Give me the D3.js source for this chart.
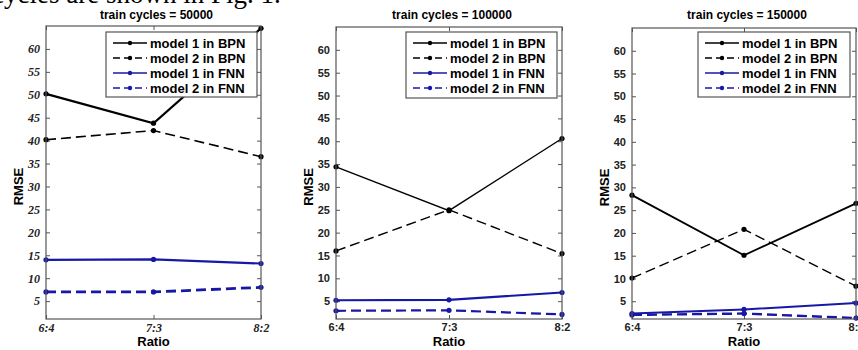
<!DOCTYPE html>
<html><head><meta charset="utf-8">
<script src="https://cdn.jsdelivr.net/npm/d3@7"></script>
<style>
body{margin:0;background:#fff;}
svg{display:block;}
</style></head>
<body>
<svg id="chart" width="858" height="350"></svg>
<script>
// ---- data ----
const ratios = ["6:4", "7:3", "8:2"];
const cycles = ["50000", "100000", "150000"];
const seriesNames = ["model 1 in BPN", "model 2 in BPN", "model 1 in FNN", "model 2 in FNN"];
const yTicks = [5, 10, 15, 20, 25, 30, 35, 40, 45, 50, 55, 60];
// values per panel (train cycles = 50000, 100000, 150000)
const bpn1 = [[50.2, 43.8, 64.5], [34.4, 24.8, 40.6], [28.3, 15.1, 26.5]];
const bpn2 = [[40.2, 42.2, 36.5], [16.0, 25.0, 15.4], [10.1, 20.8, 8.3]];
const fnn1 = [[14.0, 14.1, 13.2], [5.2, 5.3, 6.9], [2.3, 3.2, 4.6]];
const fnn2 = [[7.0, 7.0, 8.0], [2.9, 3.0, 2.1], [2.0, 2.3, 1.3]];

// ---- layout / style ----
const svg = d3.select("#chart");
const BLUE = "#1818a6";
const layouts = [
  {l: 46, r: 261, t: 26, b: 319, font: "bold italic 12px 'Liberation Serif', serif", lw: [2.2, 1.6, 2.2, 2.8], legend: {x: 106, y: 32, w: 151, h: 65}},
  {l: 336, r: 562, t: 27, b: 319, font: "bold 11px 'Liberation Sans', Arial, sans-serif", lw: [1.4, 1.4, 2.2, 2.2], legend: {x: 406, y: 32, w: 151, h: 66}},
  {l: 632, r: 856, t: 28, b: 319, font: "bold 11px 'Liberation Sans', Arial, sans-serif", lw: [1.8, 1.4, 2.0, 2.4], legend: {x: 698, y: 32, w: 152, h: 65}}
];
const styles = [
  {color: "#000", dash: null},
  {color: "#000", dash: "10,5"},
  {color: BLUE, dash: null},
  {color: BLUE, dash: "10,5"}
];

// stray caption text at the top (from surrounding document)
svg.append("text").attr("x", -8).attr("y", 3)
  .attr("font-family", "'Liberation Serif', serif").attr("font-size", 27)
  .attr("fill", "#000").text("cycles are shown in Fig. 1.");

layouts.forEach((L, p) => {
  const g = svg.append("g");
  const x = d3.scalePoint().domain(ratios).range([L.l, L.r]);
  const y = d3.scaleLinear().domain([1.1, 65]).range([L.b, L.t]);

  // white plot area
  g.append("rect").attr("x", L.l).attr("y", L.t).attr("width", L.r - L.l).attr("height", L.b - L.t)
    .attr("fill", "#fff");

  // left axis
  const yl = g.append("g").attr("transform", `translate(${L.l},0)`)
    .call(d3.axisLeft(y).tickValues(yTicks).tickSizeInner(-4).tickSizeOuter(0).tickPadding(6));
  yl.selectAll("text").style("font", L.font).attr("fill", "#222");
  // right axis ticks
  const yr = g.append("g").attr("transform", `translate(${L.r},0)`)
    .call(d3.axisRight(y).tickValues(yTicks).tickSizeInner(-4).tickSizeOuter(0).tickFormat(""));
  // bottom axis
  const xb = g.append("g").attr("transform", `translate(0,${L.b})`)
    .call(d3.axisBottom(x).tickSizeInner(-4).tickSizeOuter(0).tickPadding(4));
  xb.selectAll("text").style("font", L.font).attr("fill", "#222");
  // top axis ticks
  const xt = g.append("g").attr("transform", `translate(0,${L.t})`)
    .call(d3.axisTop(x).tickSizeInner(-4).tickSizeOuter(0).tickFormat(""));
  [yl, yr, xb, xt].forEach(a => {
    a.select(".domain").remove();
    a.selectAll("line").attr("stroke", "#555");
  });

  // series
  const clipId = "clip" + p;
  svg.append("clipPath").attr("id", clipId).append("rect")
    .attr("x", L.l - 4).attr("y", L.t - 4).attr("width", L.r - L.l + 8).attr("height", L.b - L.t + 8);
  const all = [bpn1[p], bpn2[p], fnn1[p], fnn2[p]];
  const line = d3.line().x((d, i) => x(ratios[i])).y(d => y(d));
  const sg = g.append("g").attr("clip-path", `url(#${clipId})`);
  all.forEach((vals, s) => {
    sg.append("path").datum(vals).attr("d", line).attr("fill", "none")
      .attr("stroke", styles[s].color).attr("stroke-width", L.lw[s])
      .attr("stroke-dasharray", styles[s].dash);
    sg.selectAll(null).data(vals).enter().append("circle")
      .attr("cx", (d, i) => x(ratios[i])).attr("cy", d => y(d)).attr("r", 2.6)
      .attr("fill", styles[s].color);
  });

  // frame
  g.append("rect").attr("x", L.l).attr("y", L.t).attr("width", L.r - L.l).attr("height", L.b - L.t)
    .attr("fill", "none").attr("stroke", "#555").attr("stroke-width", 1.2);

  // title
  g.append("text").attr("x", (L.l + L.r) / 2 + 3).attr("y", 19).attr("text-anchor", "middle")
    .style("font", "bold 12px 'Liberation Sans', Arial, sans-serif").text("train cycles = " + cycles[p]);
  // axis labels
  g.append("text").attr("x", (L.l + L.r) / 2).attr("y", 346).attr("text-anchor", "middle")
    .style("font", "bold 13px 'Liberation Sans', Arial, sans-serif").text("Ratio");
  g.append("text").attr("transform", `translate(${L.l - 23},${y(30)}) rotate(-90)`).attr("text-anchor", "middle")
    .style("font", "bold 13px 'Liberation Sans', Arial, sans-serif").text("RMSE");

  // legend
  const lg = g.append("g");
  lg.append("rect").attr("x", L.legend.x).attr("y", L.legend.y).attr("width", L.legend.w).attr("height", L.legend.h)
    .attr("fill", "#fff").attr("stroke", "#555").attr("stroke-width", 1.2);
  seriesNames.forEach((name, s) => {
    const yy = L.legend.y + 11 + s * 15;
    const x0 = L.legend.x + 7, x1 = L.legend.x + 41;
    lg.append("line").attr("x1", x0).attr("x2", x1).attr("y1", yy).attr("y2", yy)
      .attr("stroke", styles[s].color).attr("stroke-width", 1.4)
      .attr("stroke-dasharray", styles[s].dash ? "7,4" : null);
    lg.append("circle").attr("cx", (x0 + x1) / 2).attr("cy", yy).attr("r", 2.2).attr("fill", styles[s].color);
    lg.append("text").attr("x", L.legend.x + 44).attr("y", yy + 5)
      .style("font", "bold 13px 'Liberation Sans', Arial, sans-serif").attr("fill", "#000").text(name);
  });
});
</script>
</body></html>
